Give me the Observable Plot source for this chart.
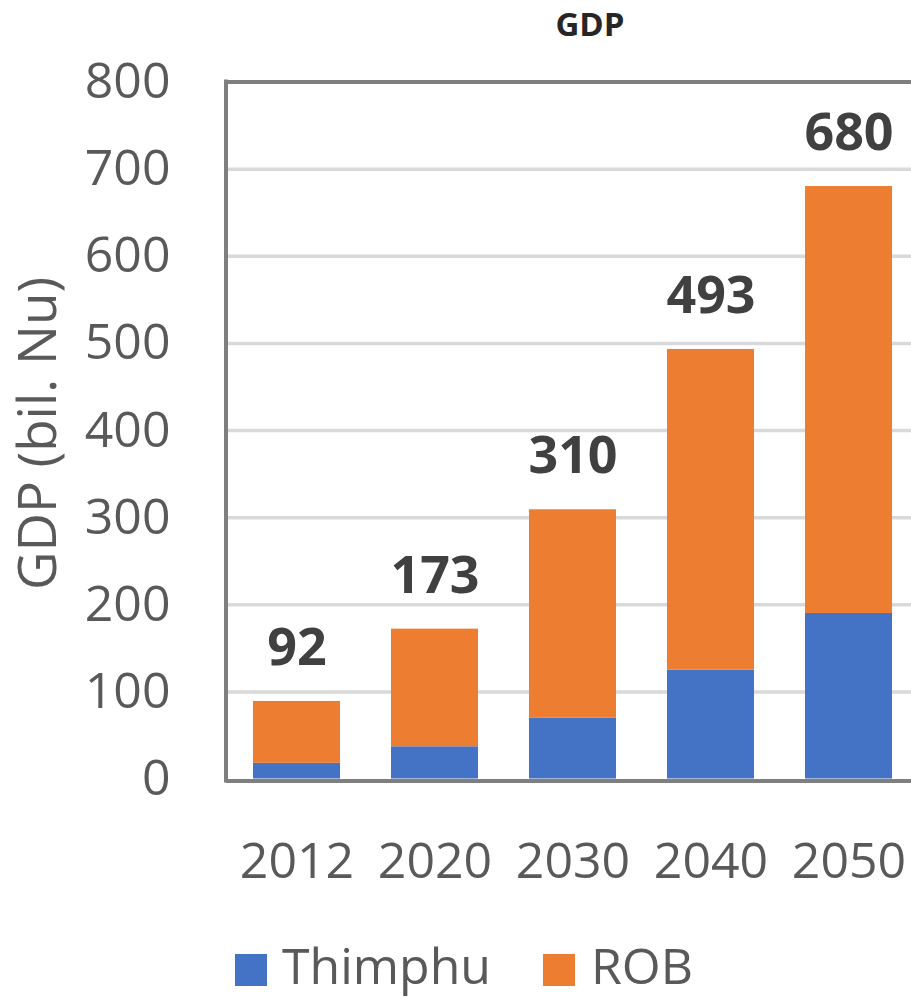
<!DOCTYPE html>
<html>
<head>
<meta charset="utf-8">
<script src="https://cdn.jsdelivr.net/npm/d3@7"></script>
<script src="https://cdn.jsdelivr.net/npm/@observablehq/plot@0.6"></script>
<style>
  html, body { margin: 0; padding: 0; background: #fff; }
  #wrap { position: relative; width: 911px; height: 998px; overflow: hidden; font-family: "Open Sans", "Noto Sans", sans-serif; background: #fff; }
  #title { position: absolute; left: 490px; width: 200px; top: 1px; height: 45px; text-align: center; font-size: 33px; line-height: normal; font-weight: bold; color: #262626; }
  #chart { position: absolute; left: 0; top: 46px; }
  .lg { position: absolute; font-size: 50px; line-height: 50px; color: #595959; white-space: nowrap; }
  .sw { position: absolute; width: 32px; height: 32px; }
</style>
</head>
<body>
<div id="wrap">
  <div id="title">GDP</div>
  <div id="chart"></div>
  <div class="sw" style="left:235px;top:954px;background:#4472C4"></div>
  <div class="lg" style="left:282px;top:940px">Thimphu</div>
  <div class="sw" style="left:543px;top:954px;background:#ED7D31"></div>
  <div class="lg" style="left:591px;top:940px">ROB</div>
</div>
<script>
const years = ["2012", "2020", "2030", "2040", "2050"];
const thimphu = [18, 37, 70, 125, 190];
const rob = [71, 135, 239, 368, 490];
const totalLabels = ["92", "173", "310", "493", "680"];
const seriesNames = ["Thimphu", "ROB"];
const seriesColors = ["#4472C4", "#ED7D31"];
const yTicks = [0, 100, 200, 300, 400, 500, 600, 700, 800];

const rows = [];
years.forEach((yr, i) => {
  rows.push({year: yr, series: "Thimphu", value: thimphu[i]});
  rows.push({year: yr, series: "ROB", value: rob[i]});
});
const totals = years.map((yr, i) => ({year: yr, total: thimphu[i] + rob[i], label: totalLabels[i]}));

const leftBorder = (index, scales, values, dims) => {
  const ns = "http://www.w3.org/2000/svg";
  const l = document.createElementNS(ns, "line");
  l.setAttribute("x1", dims.marginLeft);
  l.setAttribute("x2", dims.marginLeft);
  l.setAttribute("y1", dims.marginTop - 2);
  l.setAttribute("y2", dims.height - dims.marginBottom + 4);
  l.setAttribute("stroke", "#7f7f7f");
  l.setAttribute("stroke-width", 4);
  return l;
};

const chart = Plot.plot({
  width: 911,
  height: 874,
  marginLeft: 226,
  marginRight: 0,
  marginTop: 35.5,
  marginBottom: 141.5,
  style: {fontFamily: "'Open Sans', 'Noto Sans', sans-serif", background: "transparent", color: "#595959"},
  x: {domain: years, range: [227, 917], paddingInner: 0.37, paddingOuter: 0.185},
  y: {domain: [0, 800]},
  color: {domain: seriesNames, range: seriesColors},
  marks: [
    Plot.ruleY(yTicks.filter(d => d > 0 && d < 800), {stroke: "#d9d9d9", strokeWidth: 3.5}),
    Plot.barY(rows, {x: "year", y: "value", fill: "series"}),
    Plot.ruleY([800], {stroke: "#7f7f7f", strokeWidth: 4}),
    Plot.ruleY([0], {stroke: "#7f7f7f", strokeWidth: 4, dy: 2}),
    leftBorder,
    Plot.text(totals, {x: "year", y: "total", text: "label", dy: -53, fontSize: 52, fontWeight: "bold", fill: "#404040"}),
    Plot.axisY({ticks: yTicks, tickSize: 0, tickPadding: 56, fontSize: 50, label: null, fill: "#595959"}),
    Plot.axisX({tickSize: 0, tickPadding: 63, fontSize: 50, label: null, fill: "#595959"}),
    Plot.text(["GDP (bil. Nu)"], {frameAnchor: "left", textAnchor: "middle", lineAnchor: "middle", dx: -187, dy: 3, rotate: -90, fontSize: 53, fill: "#595959"})
  ]
});
document.getElementById("chart").appendChild(chart);
</script>
</body>
</html>
